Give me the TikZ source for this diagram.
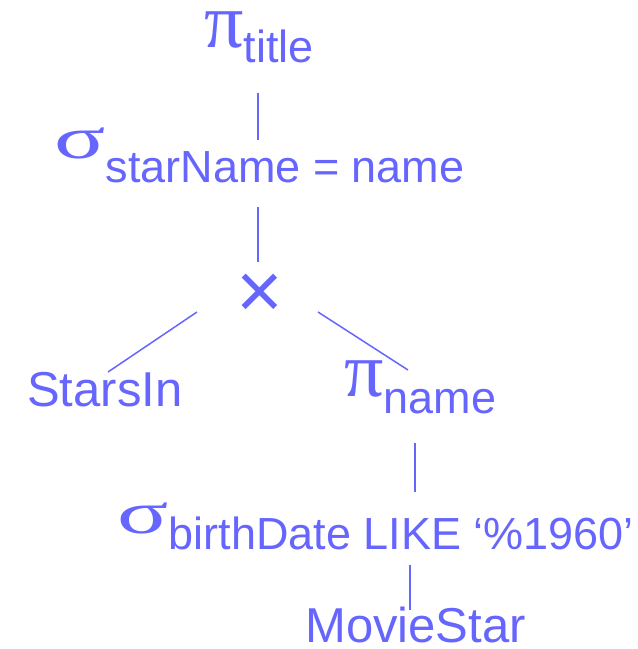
\documentclass[tikz,border=0pt]{standalone}
\usepackage{fontspec}
\setmainfont{Liberation Sans}
\newfontfamily\greekfont{Liberation Serif}
\definecolor{ra}{HTML}{6666FF}
% operator symbols and text sizes
\newcommand\gpi{{\greekfont\fontsize{78}{78}\selectfont π}}
\newcommand\gsigma{\scalebox{1.4}[0.88]{\greekfont\fontsize{68}{68}\selectfont σ}}
\newcommand\mainsz{\fontsize{49}{49}\selectfont}
\newcommand\subsz{\fontsize{45}{45}\selectfont}
\tikzset{
  lbl/.style={inner sep=0pt, anchor=base west, text=ra},
  edge/.style={draw=ra, line width=1.5pt}
}
\begin{document}
\begin{tikzpicture}[x=1pt,y=1pt]
\useasboundingbox (0,0) rectangle (638,649);
% operators and relations of the query tree
\node[lbl, text height=40pt] (ptitle) at (204,601) {\gpi\raisebox{-15pt}{\subsz title}};
\node[lbl] (sel1) at (54,490) {\gsigma\raisebox{-24pt}{\subsz starName = name}};
\node[inner sep=0pt, text=ra, font=\fontsize{80}{80}\selectfont] (prod) at (260,353) {×};
\node[lbl] (starsin) at (27,242) {\mainsz StarsIn};
\node[lbl] (pname) at (344,252) {\gpi\raisebox{-17pt}{\subsz name}};
\node[lbl] (sel2) at (117,115) {\gsigma\raisebox{-16pt}{\subsz birthDate LIKE ‘\%1960’}};
\node[lbl, text depth=0pt] (moviestar) at (305,6) {\mainsz MovieStar};
% end points of the tree edges
\coordinate (a1) at (258,556); \coordinate (a2) at (258,509);
\coordinate (b1) at (258,442); \coordinate (b2) at (258,387);
\coordinate (c1) at (197,337); \coordinate (c2) at (108,277);
\coordinate (d1) at (318,337); \coordinate (d2) at (408,279);
\coordinate (e1) at (415,206); \coordinate (e2) at (415,157);
\coordinate (f1) at (410,84);  \coordinate (f2) at (410,39);
\draw[edge] (a1) -- (a2);
\draw[edge] (b1) -- (b2);
\draw[edge] (c1) -- (c2);
\draw[edge] (d1) -- (d2);
\draw[edge] (e1) -- (e2);
\draw[edge] (f1) -- (f2);
\end{tikzpicture}
\end{document}
